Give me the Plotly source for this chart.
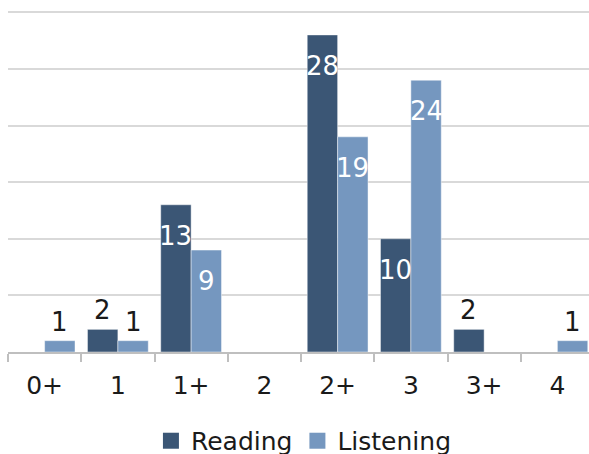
import plotly.graph_objects as go

categories = ["0+", "1", "1+", "2", "2+", "3", "3+", "4"]
reading = [0, 2, 13, 0, 28, 10, 2, 0]
listening = [1, 1, 9, 0, 19, 24, 0, 1]

READ_COLOR = "#3B5675"
LIST_COLOR = "#7597BF"
FONT = "DejaVu Sans"
BARGAP = 0.17
INSIDE_MIN = 5

fig = go.Figure()
for name, vals, col in [("Reading", reading, READ_COLOR), ("Listening", listening, LIST_COLOR)]:
    fig.add_trace(go.Bar(
        x=categories, y=vals, name=name, showlegend=False,
        marker=dict(color=col, line=dict(color="rgba(255,255,255,0.45)", width=1)),
        hoverinfo="x+y",
    ))
    # legend proxies with square swatches
    fig.add_trace(go.Scatter(
        x=[None], y=[None], mode="markers", name=name,
        marker=dict(symbol="square", size=16, color=col),
    ))

# value labels
off = (1 - BARGAP) / 4
annotations = []
for sign, vals in [(-1, reading), (1, listening)]:
    for i, v in enumerate(vals):
        if v == 0:
            continue
        if v >= INSIDE_MIN:
            annotations.append(dict(
                x=i + sign * off, y=v, xref="x", yref="y", text=str(v),
                showarrow=False, yanchor="middle", yshift=-31,
                font=dict(family=FONT, size=26, color="white"),
            ))
        else:
            annotations.append(dict(
                x=i + sign * off, y=v, xref="x", yref="y", text=str(v),
                showarrow=False, yanchor="bottom", yshift=2,
                font=dict(family=FONT, size=26, color="#1a1a1a"),
            ))

fig.update_layout(
    width=597, height=462,
    margin=dict(l=8, r=3, t=10, b=110),
    paper_bgcolor="white", plot_bgcolor="white",
    barmode="group", bargap=BARGAP, bargroupgap=0,
    font=dict(family=FONT, size=25, color="#1a1a1a"),
    annotations=annotations,
    legend=dict(
        orientation="h", yref="container", y=0.0455, yanchor="middle",
        x=0.505, xanchor="center", font=dict(size=25, family=FONT, color="#1a1a1a"),
        itemwidth=30, traceorder="normal",
    ),
    xaxis=dict(
        type="category", range=[-0.5, 7.5],
        showline=True, linecolor="#BFBFBF", linewidth=2,
        ticks="outside", tickson="boundaries", ticklen=8, tickcolor="#BFBFBF", tickwidth=1.5,
        ticklabelstandoff=10,
        showgrid=False, tickfont=dict(size=25, family=FONT, color="#1a1a1a"),
    ),
    yaxis=dict(
        range=[0, 30.2], tickvals=[5, 10, 15, 20, 25, 30], showticklabels=False, showgrid=True,
        gridcolor="#D9D9D9", gridwidth=1.5, zeroline=False,
    ),
)

fig.write_html(
    "out.html",
    config={"displayModeBar": False},
    post_script=(
        "document.body.style.margin='0';"
        "document.documentElement.style.overflow='hidden';"
        "document.body.style.overflow='hidden';"
    ),
)
